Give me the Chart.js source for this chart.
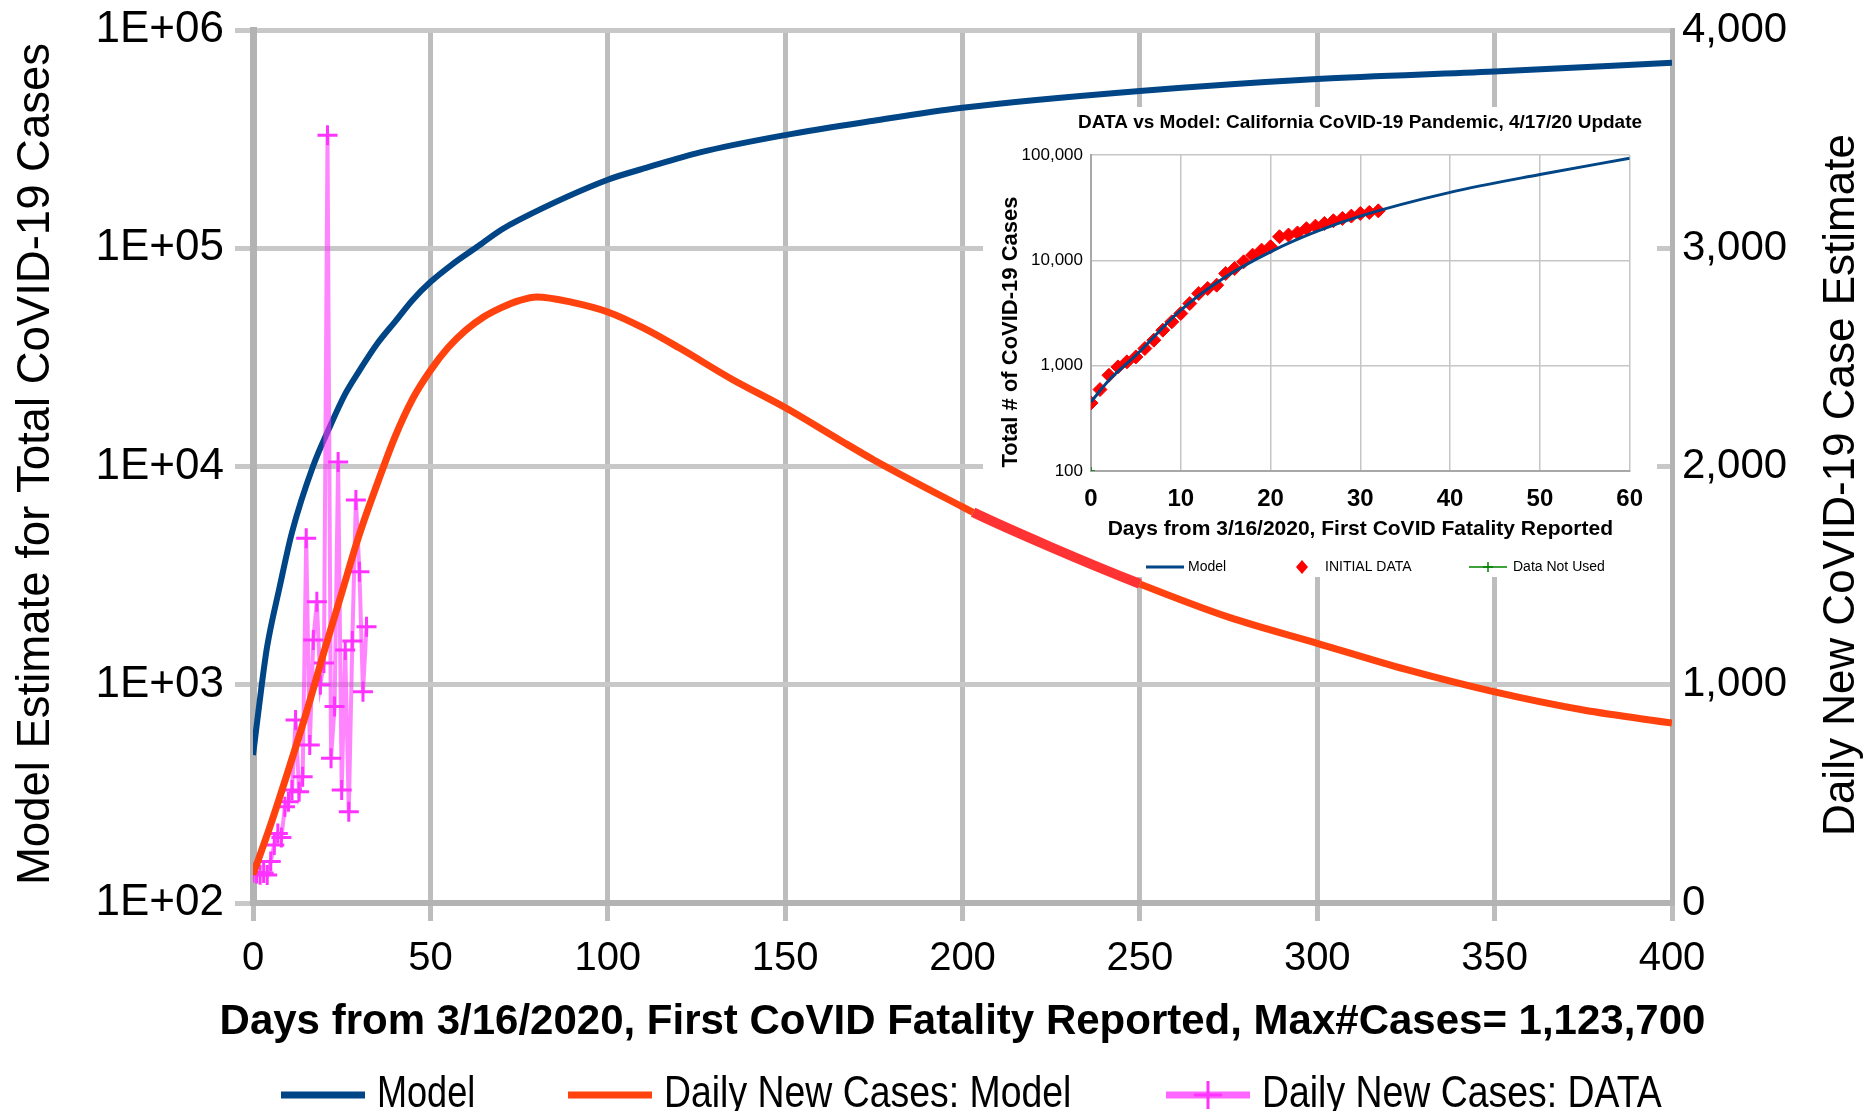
<!DOCTYPE html>
<html>
<head>
<meta charset="utf-8">
<title>California CoVID-19 Model</title>
<script src="https://cdn.jsdelivr.net/npm/chart.js@4.4.1/dist/chart.umd.min.js"></script>
<style>
  html, body { margin: 0; padding: 0; background: #fff; }
  #wrap { position: relative; width: 1876px; height: 1111px; }
  #main { position: absolute; left: 0; top: 0; }
  #inset { position: absolute; left: 983px; top: 107px; }
</style>
</head>
<body>
<div id="wrap">
  <canvas id="main" width="1876" height="1111"></canvas>
  <canvas id="inset" width="674" height="470"></canvas>
</div>
<script>
// main chart: model total (left, log), daily new cases (right, linear)
const modelDays = [0, 2.5, 4, 7.5, 11, 17, 21.5, 26, 30, 35, 40, 45, 50, 56, 63, 70, 75, 100, 111, 126, 150, 175, 200, 250, 300, 350, 400];
const modelTotals = [476, 1010, 1500, 2800, 5000, 10100, 15000, 21500, 27500, 36500, 46000, 58000, 70000, 84000, 101000, 121600, 135000, 206000, 234000, 275000, 330000, 384000, 440000, 525000, 596000, 645000, 708000];

const dailyModelDays = [0, 5, 10, 15, 20, 25, 30, 35, 40, 45, 50, 55, 60, 65, 70, 75, 80, 90, 100, 110, 120, 135, 150, 165, 175, 200, 203, 225, 250, 275, 300, 325, 350, 375, 400];
const dailyModelValues = [130, 360, 610, 870, 1150, 1420, 1690, 1920, 2135, 2310, 2440, 2545, 2625, 2685, 2728, 2760, 2777, 2752, 2708, 2635, 2545, 2400, 2270, 2125, 2030, 1815, 1790, 1630, 1462, 1310, 1190, 1070, 967, 884, 824];

const dataDays = [0, 1, 2, 3, 4, 5, 6, 7, 8, 9, 10, 11, 12, 13, 14, 15, 16, 17, 18, 19, 20, 21, 22, 23, 24, 25, 26, 27, 28, 29, 30, 31, 32];
const dataValues = [140, 135, 130, 138, 128, 190, 266, 319, 300, 441, 464, 518, 838, 510, 579, 1671, 724, 1205, 1380, 1000, 1100, 3518, 663, 900, 2021, 518, 1159, 418, 1200, 1846, 1518, 968, 1266];

const leftTicks = [100, 1000, 10000, 100000, 1000000];

// inset chart
const insetModelDays = [0, 2, 5, 10, 15, 20, 25, 30, 40, 50, 60];
const insetModelTotals = [453, 728, 1256, 3365, 6980, 12050, 18600, 26300, 44200, 65300, 93000];
const insetDataDays = [0, 1, 2, 3, 4, 5, 6, 7, 8, 9, 10, 11, 12, 13, 14, 15, 16, 17, 18, 19, 20, 21, 22, 23, 24, 25, 26, 27, 28, 29, 30, 31, 32];
const insetDataTotals = [443, 593, 811, 973, 1087, 1211, 1454, 1746, 2173, 2607, 3127, 3890, 4843, 5405, 5812, 7499, 8369, 9685, 11200, 12500, 13450, 16750, 17380, 18200, 19970, 21120, 22390, 23760, 25000, 26300, 27860, 28500, 29500];
const notUsedDays = [0];
const notUsedTotals = [100];
const insetTicks = [100, 1000, 10000, 100000];

const BLUE = '#004586';
const ORANGE = '#ff420e';
const MAGENTA = '#ff33ff';
const SANS = '"Liberation Sans", Arial, sans-serif';

const toPts = (xs, ys) => xs.map((x, i) => ({ x: x, y: ys[i] }));
const underInset = c => c.p0.parsed.x >= 203 && c.p1.parsed.x <= 250;

function drawPlus(ctx, x, y, r, color, w) {
  ctx.strokeStyle = color;
  ctx.lineWidth = w;
  ctx.beginPath();
  ctx.moveTo(x - r, y); ctx.lineTo(x + r, y);
  ctx.moveTo(x, y - r); ctx.lineTo(x, y + r);
  ctx.stroke();
}

// narrow text: squeeze horizontally like the original charting program did
function narrowText(ctx, text, x, y, sx) {
  ctx.save();
  ctx.translate(x, y);
  ctx.scale(sx, 1);
  ctx.fillText(text, 0, 0);
  ctx.restore();
}

const mainExtras = {
  id: 'mainExtras',
  beforeDatasetsDraw(chart) {
    // white box behind the pasted inset chart
    const ctx = chart.ctx;
    ctx.save();
    ctx.fillStyle = '#fff';
    ctx.fillRect(983, 107, 674, 470);
    ctx.restore();
  },
  afterDraw(chart) {
    const ctx = chart.ctx;
    const area = chart.chartArea;
    ctx.save();
    ctx.fillStyle = '#000';
    ctx.textBaseline = 'middle';
    ctx.textAlign = 'center';

    ctx.font = '45.5px ' + SANS;
    ctx.save();
    ctx.translate(36, 464);
    ctx.rotate(-Math.PI / 2);
    ctx.fillText('Model Estimate for Total CoVID-19 Cases', 0, 0);
    ctx.restore();

    ctx.font = '44px ' + SANS;
    ctx.save();
    ctx.translate(1842, 485);
    ctx.rotate(-Math.PI / 2);
    ctx.fillText('Daily New CoVID-19 Case Estimate', 0, 0);
    ctx.restore();

    ctx.font = 'bold 42px ' + SANS;
    ctx.fillText('Days from 3/16/2020, First CoVID Fatality Reported, Max#Cases= 1,123,700', (area.left + area.right) / 2, 1022);

    // legend
    const ly = 1095;
    const items = [
      { x: 281, ds: chart.data.datasets[0] },
      { x: 568, ds: chart.data.datasets[1] },
      { x: 1166, ds: chart.data.datasets[2], plus: true }
    ];
    ctx.font = '44px ' + SANS;
    ctx.textAlign = 'left';
    items.forEach(it => {
      ctx.strokeStyle = it.plus ? 'rgba(255,51,255,0.75)' : it.ds.borderColor;
      ctx.lineWidth = 7;
      ctx.beginPath();
      ctx.moveTo(it.x, ly); ctx.lineTo(it.x + 84, ly);
      ctx.stroke();
      if (it.plus) drawPlus(ctx, it.x + 42, ly, 14, MAGENTA, 3);
      ctx.fillStyle = '#000';
      narrowText(ctx, it.ds.label, it.x + 96, ly, it.ds.label.length > 6 ? 0.85 : 0.82);
    });
    ctx.restore();
  }
};

new Chart(document.getElementById('main'), {
  type: 'line',
  data: {
    datasets: [
      {
        label: 'Model',
        data: toPts(modelDays, modelTotals),
        yAxisID: 'y',
        borderColor: BLUE,
        borderWidth: 6,
        pointRadius: 0,
        cubicInterpolationMode: 'monotone',
        order: 2
      },
      {
        label: 'Daily New Cases: Model',
        data: toPts(dailyModelDays, dailyModelValues),
        yAxisID: 'y2',
        borderColor: ORANGE,
        borderWidth: 7,
        pointRadius: 0,
        cubicInterpolationMode: 'monotone',
        segment: {
          borderColor: c => underInset(c) ? '#ff3333' : undefined,
          borderWidth: c => underInset(c) ? 10 : undefined
        },
        order: 0
      },
      {
        label: 'Daily New Cases: DATA',
        data: toPts(dataDays, dataValues),
        yAxisID: 'y2',
        borderColor: 'rgba(255,51,255,0.6)',
        borderWidth: 4,
        pointStyle: 'cross',
        pointRadius: 10,
        pointBorderColor: MAGENTA,
        pointBorderWidth: 3,
        order: 1
      }
    ]
  },
  options: {
    responsive: false,
    animation: false,
    layout: { padding: { top: 30, left: 0, right: 0, bottom: 0 } },
    plugins: { legend: { display: false }, tooltip: { enabled: false } },
    scales: {
      x: {
        type: 'linear',
        min: 0,
        max: 400,
        ticks: { stepSize: 50, color: '#000', padding: 14, font: { family: SANS, size: 40 } },
        grid: { color: '#bdbdbd', lineWidth: 5, tickLength: 18 },
        border: { color: '#b3b3b3', width: 6 },
        afterFit: s => { s.height = 208; s.paddingLeft = 0; s.paddingRight = 0; }
      },
      y: {
        type: 'logarithmic',
        position: 'left',
        min: 100,
        max: 1000000,
        afterBuildTicks: s => { s.ticks = leftTicks.map(v => ({ value: v })); },
        ticks: {
          color: '#000',
          padding: 11,
          font: { family: SANS, size: 44 },
          callback: v => '1E+' + String(Math.round(Math.log10(v))).padStart(2, '0')
        },
        grid: { color: '#c8c8c8', lineWidth: 5, tickLength: 18 },
        border: { color: '#b3b3b3', width: 7 },
        afterFit: s => { s.width = 253; s.paddingTop = 0; s.paddingBottom = 0; }
      },
      y2: {
        type: 'linear',
        position: 'right',
        min: 0,
        max: 4000,
        ticks: {
          stepSize: 1000,
          color: '#000',
          padding: 10,
          font: { family: SANS, size: 42 },
          callback: v => v.toLocaleString('en-US')
        },
        grid: { drawOnChartArea: false, drawTicks: false },
        border: { color: '#b3b3b3', width: 5 },
        afterFit: s => { s.width = 204; s.paddingTop = 0; s.paddingBottom = 0; }
      }
    }
  },
  plugins: [mainExtras]
});

const insetExtras = {
  id: 'insetExtras',
  afterDraw(chart) {
    const ctx = chart.ctx;
    const area = chart.chartArea;
    ctx.save();
    ctx.fillStyle = '#000';
    ctx.textAlign = 'center';
    ctx.textBaseline = 'middle';

    ctx.font = 'bold 19px ' + SANS;
    ctx.fillText('DATA vs Model: California CoVID-19 Pandemic, 4/17/20 Update', 377, 16);

    ctx.font = 'bold 21px ' + SANS;
    ctx.fillText('Days from 3/16/2020, First CoVID Fatality Reported', (area.left + area.right) / 2, 422);

    ctx.font = 'bold 22px ' + SANS;
    ctx.save();
    ctx.translate(28, 225);
    ctx.rotate(-Math.PI / 2);
    ctx.fillText('Total # of CoVID-19 Cases', 0, 0);
    ctx.restore();

    // legend
    const ly = 460;
    ctx.font = '14px ' + SANS;
    ctx.textAlign = 'left';
    ctx.strokeStyle = BLUE;
    ctx.lineWidth = 3;
    ctx.beginPath(); ctx.moveTo(163, ly); ctx.lineTo(201, ly); ctx.stroke();
    ctx.fillText(chart.data.datasets[0].label, 205, ly);

    ctx.fillStyle = '#ff0000';
    ctx.beginPath();
    ctx.moveTo(319, ly - 7); ctx.lineTo(325, ly); ctx.lineTo(319, ly + 7); ctx.lineTo(313, ly);
    ctx.closePath(); ctx.fill();
    ctx.fillStyle = '#000';
    ctx.fillText(chart.data.datasets[1].label, 342, ly);

    ctx.strokeStyle = '#008000';
    ctx.lineWidth = 1.5;
    ctx.beginPath(); ctx.moveTo(486, ly); ctx.lineTo(524, ly); ctx.stroke();
    drawPlus(ctx, 505, ly, 5, '#008000', 1.5);
    ctx.fillText(chart.data.datasets[2].label, 530, ly);
    ctx.restore();
  }
};

new Chart(document.getElementById('inset'), {
  type: 'line',
  data: {
    datasets: [
      {
        label: 'Model',
        data: toPts(insetModelDays, insetModelTotals),
        borderColor: BLUE,
        borderWidth: 3,
        pointRadius: 0,
        cubicInterpolationMode: 'monotone',
        order: 0
      },
      {
        label: 'INITIAL DATA',
        data: toPts(insetDataDays, insetDataTotals),
        showLine: false,
        pointStyle: 'rectRot',
        pointRadius: 7,
        backgroundColor: '#ff0000',
        borderColor: '#ff0000',
        order: 1
      },
      {
        label: 'Data Not Used',
        data: toPts(notUsedDays, notUsedTotals),
        showLine: false,
        pointStyle: 'cross',
        pointRadius: 4,
        borderColor: '#008000',
        borderWidth: 1.5,
        order: 2
      }
    ]
  },
  options: {
    responsive: false,
    animation: false,
    layout: { padding: { top: 48, right: 23, left: 0, bottom: 0 } },
    plugins: { legend: { display: false }, tooltip: { enabled: false } },
    scales: {
      x: {
        type: 'linear',
        min: 0,
        max: 60,
        ticks: { stepSize: 10, color: '#000', padding: 14, font: { family: SANS, size: 24, weight: 'bold' } },
        grid: { color: '#c6c6c6', lineWidth: 1.5, drawTicks: false },
        border: { color: '#a8a8a8', width: 2 },
        afterFit: s => { s.height = 106; }
      },
      y: {
        type: 'logarithmic',
        min: 100,
        max: 100000,
        afterBuildTicks: s => { s.ticks = insetTicks.map(v => ({ value: v })); },
        ticks: {
          color: '#000',
          padding: 8,
          font: { family: SANS, size: 17 },
          callback: v => v.toLocaleString('en-US')
        },
        grid: { color: '#c6c6c6', lineWidth: 1.5, drawTicks: false },
        border: { color: '#a8a8a8', width: 2 },
        afterFit: s => { s.width = 108; }
      }
    }
  },
  plugins: [insetExtras]
});
</script>
</body>
</html>
